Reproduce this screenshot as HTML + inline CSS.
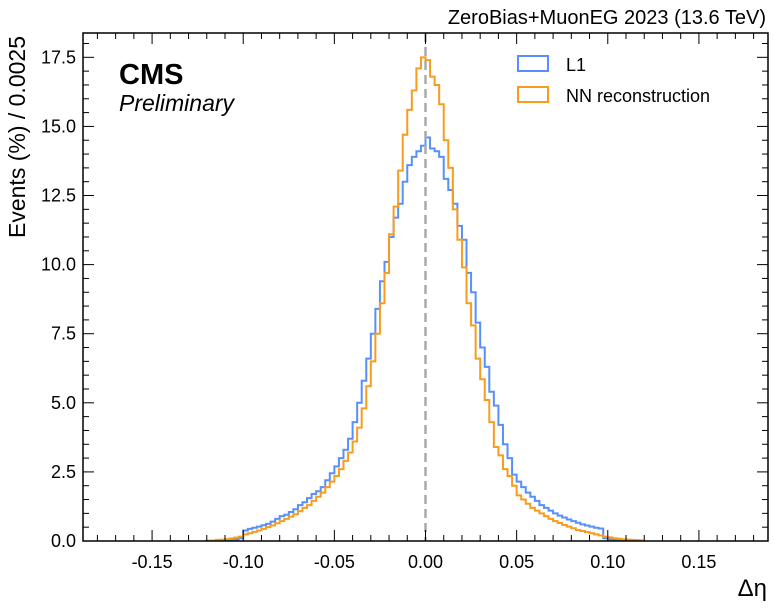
<!DOCTYPE html>
<html><head><meta charset="utf-8">
<style>
html,body{margin:0;padding:0;background:#fff;}
svg{display:block;font-family:"Liberation Sans",sans-serif;}
</style></head>
<body>
<svg id="chart" width="774" height="608" viewBox="0 0 774 608"></svg>
<script>
const binStart = -0.12;
const binWidth = 0.0025;
const l1Values = [0.01,0.01,0.02,0.03,0.04,0.05,0.06,0.1,0.38,0.44,0.48,0.52,0.57,0.62,0.7,0.8,0.9,0.95,1.05,1.15,1.3,1.4,1.55,1.7,1.8,1.95,2.2,2.45,2.7,3.0,3.3,3.7,4.3,5.0,5.8,6.6,7.5,8.4,9.4,10.1,11.0,11.7,12.2,13.0,13.6,13.9,14.1,14.3,
 14.6,14.2,14.1,13.9,13.1,12.7,12.2,11.4,10.9,9.7,9.0,7.9,7.0,6.3,5.4,4.9,4.2,3.5,3.0,2.4,2.15,1.95,1.75,1.6,1.45,1.3,1.2,1.1,1.0,0.92,0.85,0.78,0.72,0.66,0.6,0.56,0.52,0.48,0.45,0.1,0.06,0.04,0.03,0.02,0.01,0.01,0,0];
const nnValues = [0.01,0.02,0.04,0.05,0.07,0.09,0.12,0.16,0.24,0.28,0.33,0.38,0.44,0.5,0.56,0.64,0.72,0.8,0.88,0.97,1.08,1.2,1.3,1.45,1.6,1.75,1.95,2.15,2.35,2.6,2.9,3.2,3.6,4.1,4.8,5.6,6.5,7.5,8.6,9.7,11.1,12.1,13.4,14.7,15.6,16.3,17.1,17.5,
 17.4,16.8,16.5,15.8,14.5,13.5,12.0,10.9,9.9,8.6,7.8,6.6,5.85,5.1,4.3,3.4,3.1,2.6,2.35,2.0,1.65,1.5,1.35,1.2,1.1,1.0,0.9,0.8,0.72,0.65,0.58,0.52,0.46,0.4,0.36,0.32,0.28,0.24,0.2,0.16,0.13,0.1,0.08,0.06,0.05,0.04,0.03,0.02];
const xTickValues = [-0.15,-0.10,-0.05,0.00,0.05,0.10,0.15];
const xTickLabels = ["-0.15","-0.10","-0.05","0.00","0.05","0.10","0.15"];
const yTickValues = [0,2.5,5,7.5,10,12.5,15,17.5];
const yTickLabels = ["0.0","2.5","5.0","7.5","10.0","12.5","15.0","17.5"];

const L=83,R=768,T=33,B=541;
const X0=-0.1879,X1=0.1879,Y0=0,Y1=18.38;
const sx=v=>L+(v-X0)/(X1-X0)*(R-L);
const sy=v=>B-(v-Y0)/(Y1-Y0)*(B-T);
const svg=document.getElementById('chart');
const NS='http://www.w3.org/2000/svg';
function mk(tag,attrs,parent){const e=document.createElementNS(NS,tag);for(const k in attrs)e.setAttribute(k,attrs[k]);(parent||svg).appendChild(e);return e;}

function stepPath(vals){
  let d='';
  for(let i=0;i<vals.length;i++){
    const x0=sx(binStart+i*binWidth),x1=sx(binStart+(i+1)*binWidth),y=sy(vals[i]);
    d+=(i===0?`M${x0.toFixed(2)},${sy(0)} L${x0.toFixed(2)},${y.toFixed(2)}`:` L${x0.toFixed(2)},${y.toFixed(2)}`)+` L${x1.toFixed(2)},${y.toFixed(2)}`;
  }
  d+=` L${sx(binStart+vals.length*binWidth).toFixed(2)},${sy(0)}`;
  return d;
}
const clip=mk('clipPath',{id:'pc'});mk('rect',{x:L,y:T,width:R-L,height:B-T},clip);

const l1=mk('path',{d:stepPath(l1Values),fill:'none',stroke:'#5790fc','stroke-width':2,'clip-path':'url(#pc)'});


const nn=mk('path',{d:stepPath(nnValues),fill:'none',stroke:'#f89c20','stroke-width':2,'clip-path':'url(#pc)'});


const zl=mk('line',{x1:sx(0),x2:sx(0),y1:T,y2:B,stroke:'#aaaaaa','stroke-width':2.5,'stroke-dasharray':'9,5'});



const fr=mk('rect',{x:L,y:T,width:R-L,height:B-T,fill:'none',stroke:'#000','stroke-width':1.5});



for(let v=-0.18;v<=0.1801;v+=0.01){
  const x=sx(v);const major=Math.abs(Math.round(v*100)%5)===0;const len=major?11:6;
  mk('line',{x1:x,x2:x,y1:B,y2:B-len,stroke:'#000','stroke-width':1});
  mk('line',{x1:x,x2:x,y1:T,y2:T+len,stroke:'#000','stroke-width':1});
}
for(let v=0;v<=18.01;v+=0.5){
  const y=sy(v);const major=Math.abs(v/2.5-Math.round(v/2.5))<1e-6;const len=major?11:6;
  mk('line',{x1:L,x2:L+len,y1:y,y2:y,stroke:'#000','stroke-width':1});
  mk('line',{x1:R,x2:R-len,y1:y,y2:y,stroke:'#000','stroke-width':1});
}
xTickValues.forEach((v,i)=>{
  const t=mk('text',{x:sx(v),y:B+27,'font-size':18,'text-anchor':'middle'});t.textContent=xTickLabels[i];
  
  
});
yTickValues.forEach((v,i)=>{
  const t=mk('text',{x:L-7,y:sy(v)+6,'font-size':18,'text-anchor':'end'});t.textContent=yTickLabels[i];
  
  
});
</script>
<svg width="774" height="608" style="position:absolute;left:0;top:0;pointer-events:none" font-family="Liberation Sans, sans-serif">
  <text x="766" y="24" font-size="20" text-anchor="end">ZeroBias+MuonEG 2023 (13.6 TeV)</text>
  <text x="767" y="596" font-size="24" text-anchor="end">Δη</text>
  <text transform="translate(25,36) rotate(-90)" font-size="23" text-anchor="end">Events (%) / 0.0025</text>
  <text x="119" y="84" font-size="29" font-weight="bold">CMS</text>
  <text x="119" y="111" font-size="23" font-style="italic">Preliminary</text>
  <g>
    <rect x="518" y="56" width="30" height="15" fill="none" stroke="#5790fc" stroke-width="2"/>
    <text x="566" y="71" font-size="18">L1</text>
    <rect x="518" y="87" width="30" height="15" fill="none" stroke="#f89c20" stroke-width="2"/>
    <text x="566" y="102" font-size="18">NN reconstruction</text>
  </g>
</svg>
</body></html>
